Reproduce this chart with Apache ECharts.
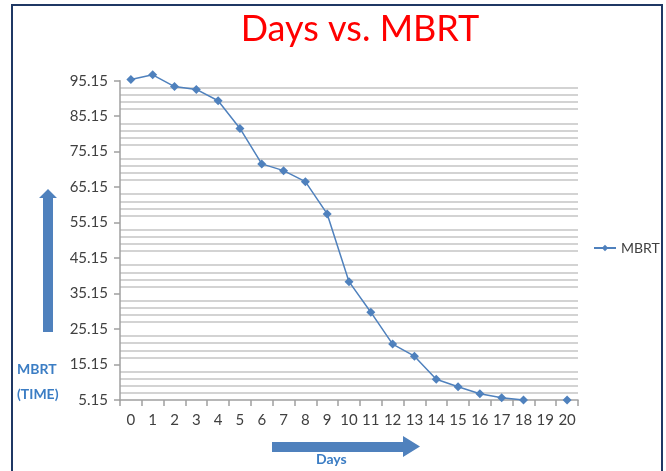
<!DOCTYPE html>
<html><head><meta charset="utf-8">
<script src="https://cdn.jsdelivr.net/npm/echarts@6/dist/echarts.min.js"></script>
<style>html,body{margin:0;padding:0;background:#fff}#c{width:666px;height:471px}</style>
</head><body><div id="c"></div>
<script>
const days = ['0','1','2','3','4','5','6','7','8','9','10','11','12','13','14','15','16','17','18','19','20'];
const mbrt = [95.5, 96.8, 93.5, 92.7, 89.5, 81.7, 71.7, 69.8, 66.7, 57.6, 38.5, 29.9, 20.9, 17.5, 11.0, 8.9, 6.9, 5.8, 5.15, null, 5.15];
const yMin = 5.15, yMax = 95.15, yStep = 10;

const chart = echarts.init(document.getElementById('c'), null, {renderer:'canvas'});
const blue = '#4f81bd';
const font = 'Lato, "Open Sans", sans-serif';
chart.setOption({
  animation: false,
  title: {text: 'Days vs. MBRT', left: 355, textAlign: 'center', top: 6,
    textStyle: {color: '#ff0000', fontSize: 36, fontWeight: 'normal', fontFamily: font}},
  legend: {data: ['MBRT'], left: 588, top: 236, itemWidth: 22, itemHeight: 8, itemGap: 3,
    textStyle: {fontSize: 14, color: '#404040', fontFamily: font}},
  grid: {left: 120, right: 88, top: 80.7, bottom: 71},
  xAxis: {type: 'category', data: days, boundaryGap: true,
    axisLine: {lineStyle: {color: '#a0a0a0', width: 1.5}},
    axisTick: {show: true, alignWithLabel: false, length: 6, lineStyle: {color: '#a0a0a0', width: 1.5}},
    axisLabel: {fontSize: 15, color: '#404040', margin: 13, interval: 0, fontFamily: font},
    splitLine: {show: false}},
  yAxis: {type: 'value', min: yMin, max: yMax, interval: yStep,
    axisLine: {show: true, lineStyle: {color: '#a0a0a0', width: 1.5}},
    axisTick: {show: true, length: 6, lineStyle: {color: '#a0a0a0', width: 1.5}},
    axisLabel: {fontSize: 15, color: '#404040', margin: 12, fontFamily: font,
      formatter: v => v.toFixed(2)},
    splitLine: {show: false},
    minorTick: {show: false, splitNumber: 5},
    minorSplitLine: {show: true, lineStyle: {color: '#c4c4c4', width: 1.6}}},
  series: [{name: 'MBRT', type: 'line', data: mbrt, connectNulls: false, clip: false,
    symbol: 'diamond', symbolSize: 9, showAllSymbol: true,
    lineStyle: {color: blue, width: 1.5}, itemStyle: {color: blue}}],
  graphic: [
    {type: 'rect', shape: {x: 12, y: 5, width: 650, height: 480}, style: {fill: 'none', stroke: '#1f3864', lineWidth: 2}, z: -1},
    {type: 'polygon', shape: {points: [[48,189],[57,198],[53,198],[53,332],[43,332],[43,198],[39,198]]}, style: {fill: blue}},
    {type: 'polygon', shape: {points: [[272,442],[403,442],[403,436],[420,446.5],[403,457],[403,452],[272,452]]}, style: {fill: blue}},
    {type: 'text', left: 17, top: 357, style: {text: 'MBRT\n(TIME)', fill: '#3b7dc4', font: 'bold 14px ' + font, lineHeight: 25}},
    {type: 'text', left: 316, top: 452, style: {text: 'Days', fill: '#3b7dc4', font: 'bold 14px ' + font}}
  ]
});
</script></body></html>
